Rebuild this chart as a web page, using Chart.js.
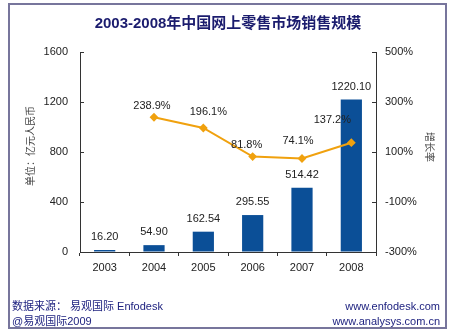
<!DOCTYPE html>
<html>
<head>
<meta charset="utf-8">
<script src="https://cdn.jsdelivr.net/npm/chart.js@4.4.1/dist/chart.umd.min.js"></script>
<style>
    body{margin:0;background:#fff;}
    #wrap{width:450px;height:333px;position:relative;}
</style>
</head>
<body>
<div id="wrap"><canvas id="chart"></canvas></div>
<script>

const years = ['2003','2004','2005','2006','2007','2008'];
const sales = [16.20, 54.90, 162.54, 295.55, 514.42, 1220.10];
const growth = [null, 238.9, 196.1, 81.8, 74.1, 137.2];
const leftTicks = [0, 400, 800, 1200, 1600];
const rightTicks = [-300, -100, 100, 300, 500];

// label nudges [dx, dy] for the growth labels, as placed in the picture
const growthLabelShift = [[0,0],[-2,-11],[5,-16],[-6,-12],[-4,-18],[-19,-23]];

const fontLatin = 'Arial, "Liberation Sans", "Noto Sans CJK SC", sans-serif';
const fontCJK = '"Liberation Sans", "Noto Sans CJK SC", sans-serif';

const decoPlugin = {
    id: 'deco',
    beforeDraw(chart){
        const c = chart.ctx;
        c.save();
        c.fillStyle = '#ffffff';
        c.fillRect(0, 0, chart.width, chart.height);
        c.restore();
    },
    afterDraw(chart){
        const c = chart.ctx;
        const area = chart.chartArea;
        c.save();

        // frame
        c.strokeStyle = '#77759c';
        c.lineWidth = 2;
        c.strokeRect(9, 4, 437, 324);

        // title
        c.fillStyle = '#1b1c6e';
        c.font = 'bold 15px ' + fontCJK;
        c.textAlign = 'center';
        c.textBaseline = 'middle';
        c.fillText('2003-2008年中国网上零售市场销售规模', 228, 24);

        // inward ticks on both y axes
        c.strokeStyle = '#333';
        c.lineWidth = 1;
        const yl = chart.scales.y;
        const yr = chart.scales.yRight;
        leftTicks.forEach(v => {
            const y = Math.round(yl.getPixelForValue(v)) + 0.5;
            c.beginPath();
            c.moveTo(area.left, y);
            c.lineTo(area.left + 4, y);
            c.stroke();
        });
        rightTicks.forEach(v => {
            const y = Math.round(yr.getPixelForValue(v)) + 0.5;
            c.beginPath();
            c.moveTo(area.right, y);
            c.lineTo(area.right - 4, y);
            c.stroke();
        });

        // axis titles
        c.fillStyle = '#444';
        c.font = '10px "Noto Sans CJK SC", sans-serif';
        c.save();
        c.translate(30, 146);
        c.rotate(-Math.PI / 2);
        c.fillText('单位：亿元人民币', 0, 0);
        c.restore();
        c.save();
        c.translate(430, 147);
        c.rotate(Math.PI / 2);
        c.fillText('增长率', 0, 0);
        c.restore();

        // value labels
        c.font = '11px ' + fontLatin;
        c.fillStyle = '#222';
        const barMeta = chart.getDatasetMeta(0);
        barMeta.data.forEach((bar, i) => {
            c.fillText(sales[i].toFixed(2), bar.x, bar.y - 13);
        });
        const lineMeta = chart.getDatasetMeta(1);
        lineMeta.data.forEach((pt, i) => {
            if(growth[i] === null){return;}
            const s = growthLabelShift[i];
            c.fillText(growth[i].toFixed(1) + '%', pt.x + s[0], pt.y + s[1]);
        });

        // footer
        c.fillStyle = '#1f2380';
        c.font = '11px ' + fontCJK;
        c.textAlign = 'left';
        c.fillText('数据来源： 易观国际 Enfodesk', 12, 307);
        c.fillText('@易观国际2009', 12, 322);
        c.textAlign = 'right';
        c.fillText('www.enfodesk.com', 440, 307);
        c.fillText('www.analysys.com.cn', 440, 322);
        c.restore();
    }
};

function drawChart(){
    const ctx = document.getElementById('chart');
    new Chart(
        ctx,
        {
            type: 'bar',
            plugins: [decoPlugin],
            options: {
                responsive: true,
                maintainAspectRatio: false,
                animation: false,
                layout: {
                    padding: {left: 8, right: 8, top: 52, bottom: 50}
                },
                plugins: {
                    legend: {display: false},
                    tooltip: {enabled: false}
                },
                scales: {
                    x: {
                        afterFit: s => { s.height = 31; },
                        grid: {
                            drawOnChartArea: false,
                            tickLength: 4,
                            color: '#333'
                        },
                        border: {color: '#333'},
                        ticks: {
                            padding: 5,
                            color: '#222',
                            font: {family: fontLatin, size: 11}
                        }
                    },
                    y: {
                        position: 'left',
                        min: 0,
                        max: 1600,
                        afterFit: s => { s.width = 72; },
                        afterBuildTicks: s => { s.ticks = leftTicks.map(v => ({value: v})); },
                        grid: {drawOnChartArea: false, drawTicks: false},
                        border: {color: '#333'},
                        ticks: {
                            padding: 12,
                            color: '#222',
                            font: {family: fontLatin, size: 11},
                            callback: v => String(v)
                        }
                    },
                    yRight: {
                        position: 'right',
                        min: -300,
                        max: 500,
                        afterFit: s => { s.width = 66; },
                        afterBuildTicks: s => { s.ticks = rightTicks.map(v => ({value: v})); },
                        grid: {drawOnChartArea: false, drawTicks: false},
                        border: {color: '#333'},
                        ticks: {
                            padding: 9,
                            color: '#222',
                            font: {family: fontLatin, size: 11},
                            callback: v => v + '%'
                        }
                    }
                }
            },
            data: {
                labels: years,
                datasets: [
                    {
                        label: '销售规模',
                        data: sales,
                        yAxisID: 'y',
                        order: 1,
                        backgroundColor: '#0b4f97',
                        categoryPercentage: 1,
                        barPercentage: 0.43
                    },
                    {
                        type: 'line',
                        label: '增长率',
                        data: growth,
                        yAxisID: 'yRight',
                        order: 0,
                        borderColor: '#f0a10e',
                        backgroundColor: '#f0a10e',
                        borderWidth: 2,
                        pointStyle: 'rectRot',
                        pointRadius: 3,
                        tension: 0
                    }
                ]
            }
        }
    );
}

drawChart();
</script>
</body>
</html>
